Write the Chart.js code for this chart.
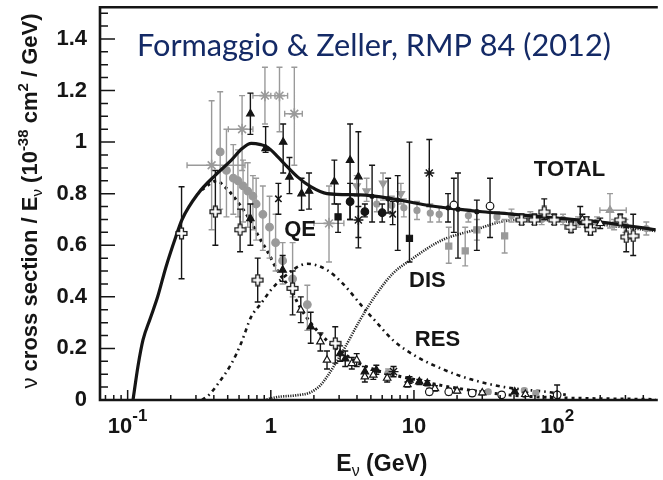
<!DOCTYPE html>
<html><head><meta charset="utf-8">
<script src="https://cdn.jsdelivr.net/npm/chart.js@4.4.1/dist/chart.umd.min.js"></script>
<style>html,body{margin:0;padding:0;background:#fff;}canvas{display:block;}</style>
</head><body>
<canvas id="c" width="663" height="480"></canvas>
<script>
// ---------- curves: [E (GeV), sigma/E] ----------
const totalCurve = [[0.109,0],[0.118,0.13],[0.128,0.233],[0.144,0.317],[0.162,0.40],[0.185,0.515],[0.217,0.633],[0.24,0.70],[0.31,0.80],[0.41,0.872],[0.53,0.93],[0.63,0.975],[0.73,0.995],[0.85,0.99],[0.95,0.98],[1.12,0.943],[1.24,0.917],[1.53,0.866],[1.9,0.827],[2.47,0.80],[4.2,0.795],[7.1,0.78],[12.1,0.756],[20,0.74],[30,0.73],[50,0.72],[100,0.705],[200,0.69],[489,0.66]];
const qeCurve = [[0.33,0.815],[0.38,0.84],[0.42,0.85],[0.47,0.83],[0.53,0.80],[0.62,0.75],[0.73,0.69],[0.83,0.63],[0.95,0.575],[1.12,0.50],[1.37,0.43],[1.6,0.36],[1.89,0.30],[2.47,0.23],[3.24,0.18],[4.2,0.14],[5.5,0.115],[7.5,0.095],[10,0.08],[15,0.058],[27,0.035],[50,0.018],[100,0.009],[489,0.002]];
const resCurve = [[0.33,0],[0.37,0.02],[0.43,0.065],[0.53,0.14],[0.62,0.22],[0.73,0.323],[0.857,0.375],[1.0,0.426],[1.24,0.478],[1.8,0.528],[2.47,0.504],[3.2,0.45],[4.4,0.36],[5.5,0.30],[7.2,0.23],[10.3,0.17],[15.8,0.12],[25,0.08],[43,0.05],[95,0.028],[115,0.02]];
const disCurve = [[0.9,0],[1.12,0.012],[1.5,0.018],[1.9,0.03],[2.2,0.055],[2.47,0.09],[3.22,0.194],[4.2,0.31],[5.46,0.41],[7.1,0.49],[9.3,0.54],[15.7,0.62],[26.8,0.66],[40,0.69],[60,0.70],[100,0.695],[200,0.68],[489,0.655]];

// ---------- data points: [E, value, low, high, (Elow, Ehigh)] ----------
const grayStars = [[0.386,0.91,0.66,1.16,0.26,0.66],[0.63,1.05,0.89,1.18,0.505,0.75],[0.91,1.18,1.07,1.29,0.75,1.07],[1.15,1.18,1.04,1.29,1.0,1.31],[1.46,1.11,0.91,1.29,1.25,1.66],[2.55,0.685,0.535,0.83,2.0,3.24]];
const grayCircles = [[0.443,0.962,0.74,1.195],[0.49,0.89,0.71,1.05],[0.547,0.86,0.72,0.99],[0.59,0.85,0.71,0.97],[0.64,0.83,0.69,0.93],[0.69,0.81,0.67,0.92],[0.75,0.79,0.66,0.87],[0.79,0.76,0.62,0.86],[0.88,0.72,0.58,0.83],[0.98,0.67,0.55,0.79],[1.08,0.61,0.50,0.72],[1.21,0.54,0.45,0.61],[1.42,0.47,0.40,0.61],[1.8,0.37,0.27,0.445]];
const whiteCrosses = [[0.238,0.646,0.47,0.827],[0.41,0.73,0.60,0.89],[0.61,0.66,0.575,0.74],[0.81,0.465,0.38,0.55],[1.42,0.433,0.33,0.50],[2.82,0.22,0.143,0.284],[56.5,0.698,0.68,0.72],[69.4,0.698,0.68,0.72],[81.3,0.729,0.70,0.78],[95.4,0.698,0.68,0.72],[125,0.67,0.65,0.69],[161,0.69,0.67,0.71],[171,0.66,0.64,0.68],[276,0.698,0.68,0.72],[304,0.632,0.575,0.67],[340,0.636,0.56,0.72]];
const blackTriangles = [[0.72,1.11,1.03,1.19],[0.92,0.975,0.96,1.06],[1.22,1.0,0.88,1.07],[1.35,0.865,0.80,0.94],[1.64,0.80,0.736,0.86],[1.85,0.81,0.74,0.88],[2.78,0.846,0.76,0.93],[3.58,0.93,0.70,1.07],[4.09,0.866,0.63,1.04],[0.72,0.704,0.60,0.76],[1.21,0.504,0.46,0.56],[1.9,0.284,0.22,0.34],[3.05,0.18,0.15,0.21],[3.31,0.16,0.13,0.19],[4.54,0.11,0.09,0.13],[5.46,0.116,0.10,0.135],[9.3,0.078,0.065,0.09],[10.9,0.071,0.06,0.08],[12.4,0.065,0.055,0.075],[50.6,0.032,0.025,0.04]];
const blackBars = [[5.1,0.79,0.69,0.91],[6.6,0.78,0.725,0.86],[7.7,0.775,0.58,0.87],[17.3,0.745,0.69,0.80],[20.3,0.74,0.55,0.88],[27.5,0.73,0.58,0.775],[145,0.69,0.69,0.75]];
const blackCircles = [[3.58,0.769,0.70,0.84],[4.54,0.73,0.71,0.76],[6.0,0.726,0.69,0.76]];
const blackAsterisks = [[4.09,0.698,0.59,0.75],[12.8,0.88,0.75,1.01],[7.2,0.11,0.09,0.13]];
const blackXs = [[1.13,0.78,0.72,0.84],[7.1,0.72,0.68,0.77]];
const blackSquares = [[2.95,0.71,0.65,0.76],[9.3,0.627,0.535,1.0]];
const grayTriDown = [[3.98,0.83,0.79,0.87],[4.67,0.81,0.77,0.86],[6.08,0.84,0.775,0.88],[8.1,0.80,0.76,0.84]];
const graySquares = [[17.5,0.597,0.53,0.67],[22.8,0.578,0.52,0.67],[27.5,0.66,0.62,0.70],[43,0.636,0.57,0.70]];
const openCircles = [[19,0.756,0.65,0.86],[34,0.752,0.63,0.86],[12.8,0.032,0.02,0.045],[17.5,0.032,0.02,0.045],[25.5,0.027,0.015,0.04],[41,0.02,0.01,0.03],[100,0.02,0.0,0.058]];
const openTriangles = [[1.62,0.349,0.30,0.40],[2.22,0.226,0.19,0.26],[2.47,0.155,0.12,0.19],[3.68,0.142,0.12,0.165],[3.98,0.155,0.13,0.18],[4.54,0.09,0.07,0.11],[5.2,0.097,0.08,0.115],[6.5,0.085,0.07,0.10],[9,0.06,0.05,0.07],[14,0.045,0.035,0.055],[20,0.035,0.028,0.042],[30,0.028,0.02,0.035],[60,0.022,0.015,0.03],[150,0.70,0.68,0.72],[200,0.685,0.665,0.705]];
const grayTriUp = [[234,0.736,0.667,0.80,199,304]];
const grayCluster = [[5.5,0.76,0.73,0.79],[7,0.755,0.72,0.79],[8.5,0.745,0.71,0.78],[10.5,0.735,0.70,0.77],[13,0.725,0.69,0.76],[15,0.72,0.69,0.75],[24,0.715,0.69,0.74],[38,0.71,0.69,0.73],[48,0.715,0.69,0.74],[65,0.71,0.69,0.73],[78,0.70,0.68,0.72],[110,0.70,0.68,0.72],[140,0.69,0.67,0.71],[190,0.69,0.67,0.71],[250,0.68,0.66,0.70],[300,0.675,0.65,0.70],[420,0.665,0.64,0.69],[6.6,0.105,0.09,0.12],[33,0.032,0.025,0.04],[59,0.036,0.03,0.045],[71,0.026,0.02,0.035]];

// ---------- axis / text ----------
const xRange = [0.0641, 489];
const yRange = [0, 1.523];
const xTickLabels = [[0.1,'10','-1'],[1,'1',''],[10,'10',''],[100,'10','2']];
const curveLabels = [['QE',1.6,0.667],['DIS',12.4,0.468],['RES',14.6,0.242],['TOTAL',122,0.898]];
const titleText = 'Formaggio & Zeller, RMP 84 (2012)';

const FONT = '"Liberation Sans", Arial, Helvetica, sans-serif';
const GRAY = '#9a9a9a', BLACK = '#151515';

function plusImage() {
  const c = document.createElement('canvas'); c.width = c.height = 13;
  const g = c.getContext('2d'), m = 6.5, h = 1.9, e = 5.4;
  g.beginPath();
  const p = [[m-h,m-e],[m+h,m-e],[m+h,m-h],[m+e,m-h],[m+e,m+h],[m+h,m+h],[m+h,m+e],[m-h,m+e],[m-h,m+h],[m-e,m+h],[m-e,m-h],[m-h,m-h]];
  p.forEach((q,i)=> i?g.lineTo(q[0],q[1]):g.moveTo(q[0],q[1]));
  g.closePath(); g.fillStyle='#fff'; g.fill(); g.lineWidth=1.3; g.strokeStyle=BLACK; g.stroke();
  return c;
}

function pts(arr){ return arr.map(r=>({x:r[0], y:r[1]})); }
function curve(arr, color, width, dash, order){
  return {type:'line', data:pts(arr), borderColor:color, borderWidth:width, borderDash:dash, borderCapStyle:'butt',
    pointRadius:0, fill:false, cubicInterpolationMode:'monotone', order:order};
}
function scat(arr, opt){
  return Object.assign({type:'scatter', data:pts(arr), errs:arr, pointBorderWidth:1.2}, opt);
}

const errorBarPlugin = {
  id:'errorBars',
  beforeDatasetDraw(chart, args){
    const ds = chart.data.datasets[args.index];
    if (!ds.errs) return;
    const ctx = chart.ctx, xs = chart.scales.x, ys = chart.scales.y, a = chart.chartArea, cap = 3;
    ctx.save();
    ctx.beginPath(); ctx.rect(a.left, a.top, a.right-a.left, a.bottom-a.top); ctx.clip();
    ctx.strokeStyle = ds.errColor; ctx.lineWidth = 1.4;
    ctx.beginPath();
    for (const r of ds.errs){
      const px = xs.getPixelForValue(r[0]), py = ys.getPixelForValue(r[1]);
      if (r.length >= 4){
        const y1 = ys.getPixelForValue(r[2]), y2 = ys.getPixelForValue(r[3]);
        ctx.moveTo(px,y1); ctx.lineTo(px,y2);
        ctx.moveTo(px-cap,y1); ctx.lineTo(px+cap,y1);
        ctx.moveTo(px-cap,y2); ctx.lineTo(px+cap,y2);
      }
      if (r.length >= 6){
        const x1 = xs.getPixelForValue(r[4]), x2 = xs.getPixelForValue(r[5]);
        ctx.moveTo(x1,py); ctx.lineTo(x2,py);
        ctx.moveTo(x1,py-cap); ctx.lineTo(x1,py+cap);
        ctx.moveTo(x2,py-cap); ctx.lineTo(x2,py+cap);
      }
    }
    ctx.stroke(); ctx.restore();
  }
};

function drawRich(ctx, segs, x, y, align){
  let w = 0;
  segs.forEach(s=>{ ctx.font = s[1]; w += ctx.measureText(s[0]).width; });
  let cx = align==='center' ? x - w/2 : x;
  segs.forEach(s=>{ ctx.font = s[1]; ctx.fillText(s[0], cx, y + (s[2]||0)); cx += ctx.measureText(s[0]).width; });
}

const decorPlugin = {
  id:'decor',
  afterDraw(chart){
    const ctx = chart.ctx, xs = chart.scales.x, ys = chart.scales.y, a = chart.chartArea;
    ctx.save();
    ctx.strokeStyle = BLACK; ctx.lineCap = 'butt';
    ctx.lineWidth = 1.5; ctx.beginPath();
    for (let d=-2; d<=3; d++) for (let m=1; m<=9; m++){
      const v = m*Math.pow(10,d);
      if (v < xs.min || v > xs.max) continue;
      const px = xs.getPixelForValue(v), len = m===1 ? 10 : 5;
      ctx.moveTo(px, a.bottom); ctx.lineTo(px, a.bottom-len);
    }
    for (let i=0; i<=40; i++){
      const v = i*0.05; if (v > ys.max) break;
      const py = ys.getPixelForValue(v), len = (i%4===0) ? 15 : 8;
      ctx.moveTo(a.left, py); ctx.lineTo(a.left+len, py);
    }
    ctx.stroke();
    ctx.lineWidth = 2.6; ctx.beginPath();
    ctx.moveTo(a.right+2, a.top); ctx.lineTo(a.left, a.top); ctx.lineTo(a.left, a.bottom); ctx.lineTo(a.right+2, a.bottom);
    ctx.stroke();
    ctx.fillStyle = BLACK; ctx.textBaseline = 'alphabetic'; ctx.textAlign = 'left';
    xTickLabels.forEach(t=>{
      const px = xs.getPixelForValue(t[0]);
      const segs = [[t[1], 'bold 22px '+FONT, 0]];
      if (t[2]) segs.push([t[2], 'bold 17px '+FONT, -12]);
      drawRich(ctx, segs, px, 433, 'center');
    });
    drawRich(ctx, [['E','bold 23px '+FONT,0],['ν','16px '+FONT,5],[' (GeV)','bold 23px '+FONT,0]], (a.left+a.right)/2+4, 471, 'center');
    ctx.save(); ctx.translate(37, 201); ctx.rotate(-Math.PI/2);
    drawRich(ctx, [['ν ','22px '+FONT,0],['cross section / E','bold 22px '+FONT,0],['ν','15px '+FONT,5],[' (10','bold 22px '+FONT,0],['-38','bold 15px '+FONT,-9],[' cm','bold 22px '+FONT,0],['2','bold 15px '+FONT,-9],[' / GeV)','bold 22px '+FONT,0]], 0, 0, 'center');
    ctx.restore();
    ctx.font = 'bold 22px '+FONT; ctx.textAlign = 'center';
    curveLabels.forEach(l=>{ ctx.fillText(l[0], xs.getPixelForValue(l[1]), ys.getPixelForValue(l[2]) + 8); });
    ctx.textAlign = 'left';
    ctx.font = '30px Lato';
    const w = ctx.measureText(titleText).width;
    const size = 30*474/w;
    ctx.font = size.toFixed(2)+'px Lato';
    ctx.fillStyle = '#142a66';
    ctx.fillText(titleText, 137, 56);
    ctx.restore();
  }
};

Chart.defaults.font.family = FONT;
const plus = plusImage();

new Chart(document.getElementById('c'), {
  type:'scatter',
  data:{ datasets:[
    curve(disCurve, '#262626', 2.6, [1.2,1.2], 40),
    curve(resCurve, BLACK, 2.6, [4,4,1.6,4], 39),
    curve(qeCurve, BLACK, 3, [3,4], 38),
    scat(grayCluster, {pointStyle:'circle', pointRadius:3, backgroundColor:GRAY, borderColor:GRAY, errColor:GRAY, order:30}),
    scat(grayStars, {pointStyle:'star', pointRadius:5.5, backgroundColor:GRAY, borderColor:GRAY, pointBorderWidth:1.6, errColor:GRAY, order:29}),
    scat(grayCircles, {pointStyle:'circle', pointRadius:3.8, backgroundColor:GRAY, borderColor:GRAY, errColor:GRAY, order:28}),
    scat(graySquares, {pointStyle:'rect', pointRadius:4.3, backgroundColor:GRAY, borderColor:GRAY, errColor:GRAY, order:27}),
    scat(grayTriDown, {pointStyle:'triangle', rotation:180, pointRadius:4.3, backgroundColor:GRAY, borderColor:GRAY, errColor:GRAY, order:26}),
    scat(grayTriUp, {pointStyle:'triangle', pointRadius:4.3, backgroundColor:GRAY, borderColor:GRAY, errColor:GRAY, order:25}),
    curve(totalCurve, BLACK, 3.2, [], 20),
    scat(blackBars, {pointStyle:'circle', pointRadius:2, backgroundColor:BLACK, borderColor:BLACK, errColor:BLACK, order:15}),
    scat(blackTriangles, {pointStyle:'triangle', pointRadius:4.3, backgroundColor:BLACK, borderColor:BLACK, errColor:BLACK, order:14}),
    scat(blackCircles, {pointStyle:'circle', pointRadius:3.8, backgroundColor:BLACK, borderColor:BLACK, errColor:BLACK, order:13}),
    scat(blackSquares, {pointStyle:'rect', pointRadius:4.3, backgroundColor:BLACK, borderColor:BLACK, errColor:BLACK, order:12}),
    scat(blackAsterisks, {pointStyle:'star', pointRadius:5, backgroundColor:BLACK, borderColor:BLACK, pointBorderWidth:1.4, errColor:BLACK, order:11}),
    scat(blackXs, {pointStyle:'crossRot', pointRadius:4.5, backgroundColor:BLACK, borderColor:BLACK, pointBorderWidth:1.6, errColor:BLACK, order:10}),
    scat(openTriangles, {pointStyle:'triangle', pointRadius:4.3, backgroundColor:'#fff', borderColor:BLACK, errColor:BLACK, order:9}),
    scat(openCircles, {pointStyle:'circle', pointRadius:3.8, backgroundColor:'#fff', borderColor:BLACK, errColor:BLACK, order:8}),
    scat(whiteCrosses, {pointStyle:plus, pointRadius:6, backgroundColor:'#fff', borderColor:BLACK, errColor:BLACK, order:7})
  ]},
  options:{
    responsive:false, devicePixelRatio:1, animation:false,
    layout:{padding:{top:7, right:0, left:0, bottom:0}},
    plugins:{legend:{display:false}, tooltip:{enabled:false}},
    scales:{
      x:{type:'logarithmic', min:xRange[0], max:xRange[1],
         grid:{display:false, drawTicks:false}, border:{display:false}, ticks:{display:false},
         afterFit:s=>{ s.height = 80; s.paddingLeft = 0; s.paddingRight = 0; }},
      y:{type:'linear', min:yRange[0], max:yRange[1],
         grid:{display:false, drawTicks:false}, border:{display:false},
         ticks:{stepSize:0.2, includeBounds:false, padding:13, color:BLACK,
                font:{family:FONT, size:22, weight:'bold'},
                callback:v=> (Math.round(v*10)/10).toString()},
         afterFit:s=>{ s.width = 100; s.paddingTop = 0; s.paddingBottom = 0; }}
    }
  },
  plugins:[errorBarPlugin, decorPlugin]
});
</script>
</body></html>
